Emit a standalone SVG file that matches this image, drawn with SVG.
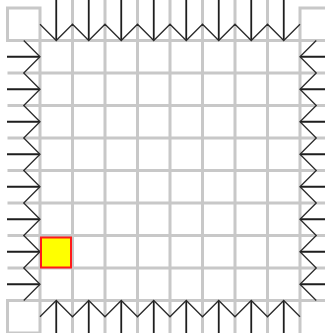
<svg xmlns="http://www.w3.org/2000/svg" width="325" height="333" viewBox="0 0 325 333">
<style>
.grid{fill:none;stroke:#c8c8c8;stroke-width:3}
.shaft{fill:none;stroke:#1e1e1e;stroke-width:1.8}
.zig{fill:none;stroke:#2a2a2a;stroke-width:1.3;stroke-linejoin:miter}
.token{fill:#ffff00;stroke:#ff1a1a;stroke-width:2}
</style>
<rect width="325" height="333" fill="#ffffff"/>
<g id="grid" class="grid">
<path d="M40 40.5V300.5M72.5 40.5V300.5M105 40.5V300.5M137.5 40.5V300.5M170 40.5V300.5M202.5 40.5V300.5M235 40.5V300.5M267.5 40.5V300.5M300 40.5V300.5"/>
<path d="M40 40.5H300M40 73H300M40 105.5H300M40 138H300M40 170.5H300M40 203H300M40 235.5H300M40 268H300M40 300.5H300"/>
<path d="M72.5 0V40.5M105 0V40.5M137.5 0V40.5M170 0V40.5M202.5 0V40.5M235 0V40.5M267.5 0V40.5"/>
<path d="M72.5 300.5V333M105 300.5V333M137.5 300.5V333M170 300.5V333M202.5 300.5V333M235 300.5V333M267.5 300.5V333"/>
<path d="M7.5 73H40M7.5 105.5H40M7.5 138H40M7.5 170.5H40M7.5 203H40M7.5 235.5H40M7.5 268H40"/>
<path d="M300 73H325M300 105.5H325M300 138H325M300 170.5H325M300 203H325M300 235.5H325M300 268H325"/>
<path d="M7.5 8H40V40.5H7.5Z"/>
<path d="M7.5 300.5H40V333H7.5Z"/>
<path d="M325 8H300V40.5H325"/>
<path d="M325 300.5H300V333"/>
</g>
<g id="connectors">
<g id="top-arrows">
<path class="shaft" d="M56.25 0V40M88.75 0V40M121.25 0V40M153.75 0V40M186.25 0V40M218.75 0V40M251.25 0V40M283.75 0V40"/>
<polyline class="zig" points="40,24.25 56.25,40.5 72.5,24.25 88.75,40.5 105,24.25 121.25,40.5 137.5,24.25 153.75,40.5 170,24.25 186.25,40.5 202.5,24.25 218.75,40.5 235,24.25 251.25,40.5 267.5,24.25 283.75,40.5 300,24.25"/>
</g>
<g id="bottom-arrows">
<path class="shaft" d="M56.25 333V301M88.75 333V301M121.25 333V301M153.75 333V301M186.25 333V301M218.75 333V301M251.25 333V301M283.75 333V301"/>
<polyline class="zig" points="40,316.75 56.25,300.5 72.5,316.75 88.75,300.5 105,316.75 121.25,300.5 137.5,316.75 153.75,300.5 170,316.75 186.25,300.5 202.5,316.75 218.75,300.5 235,316.75 251.25,300.5 267.5,316.75 283.75,300.5 300,316.75"/>
</g>
<g id="left-arrows">
<path class="shaft" d="M7 56.75H39.5M7 89.25H39.5M7 121.75H39.5M7 154.25H39.5M7 186.75H39.5M7 219.25H39.5M7 251.75H39.5M7 284.25H39.5"/>
<polyline class="zig" points="23.75,40.5 40,56.75 23.75,73 40,89.25 23.75,105.5 40,121.75 23.75,138 40,154.25 23.75,170.5 40,186.75 23.75,203 40,219.25 23.75,235.5 40,251.75 23.75,268 40,284.25 23.75,300.5"/>
</g>
<g id="right-arrows">
<path class="shaft" d="M325 56.75H300.5M325 89.25H300.5M325 121.75H300.5M325 154.25H300.5M325 186.75H300.5M325 219.25H300.5M325 251.75H300.5M325 284.25H300.5"/>
<polyline class="zig" points="316.25,40.5 300,56.75 316.25,73 300,89.25 316.25,105.5 300,121.75 316.25,138 300,154.25 316.25,170.5 300,186.75 316.25,203 300,219.25 316.25,235.5 300,251.75 316.25,268 300,284.25 316.25,300.5"/>
</g>
</g>
<g id="token">
<rect class="token" x="41" y="237.5" width="30" height="30"/>
</g>
</svg>
